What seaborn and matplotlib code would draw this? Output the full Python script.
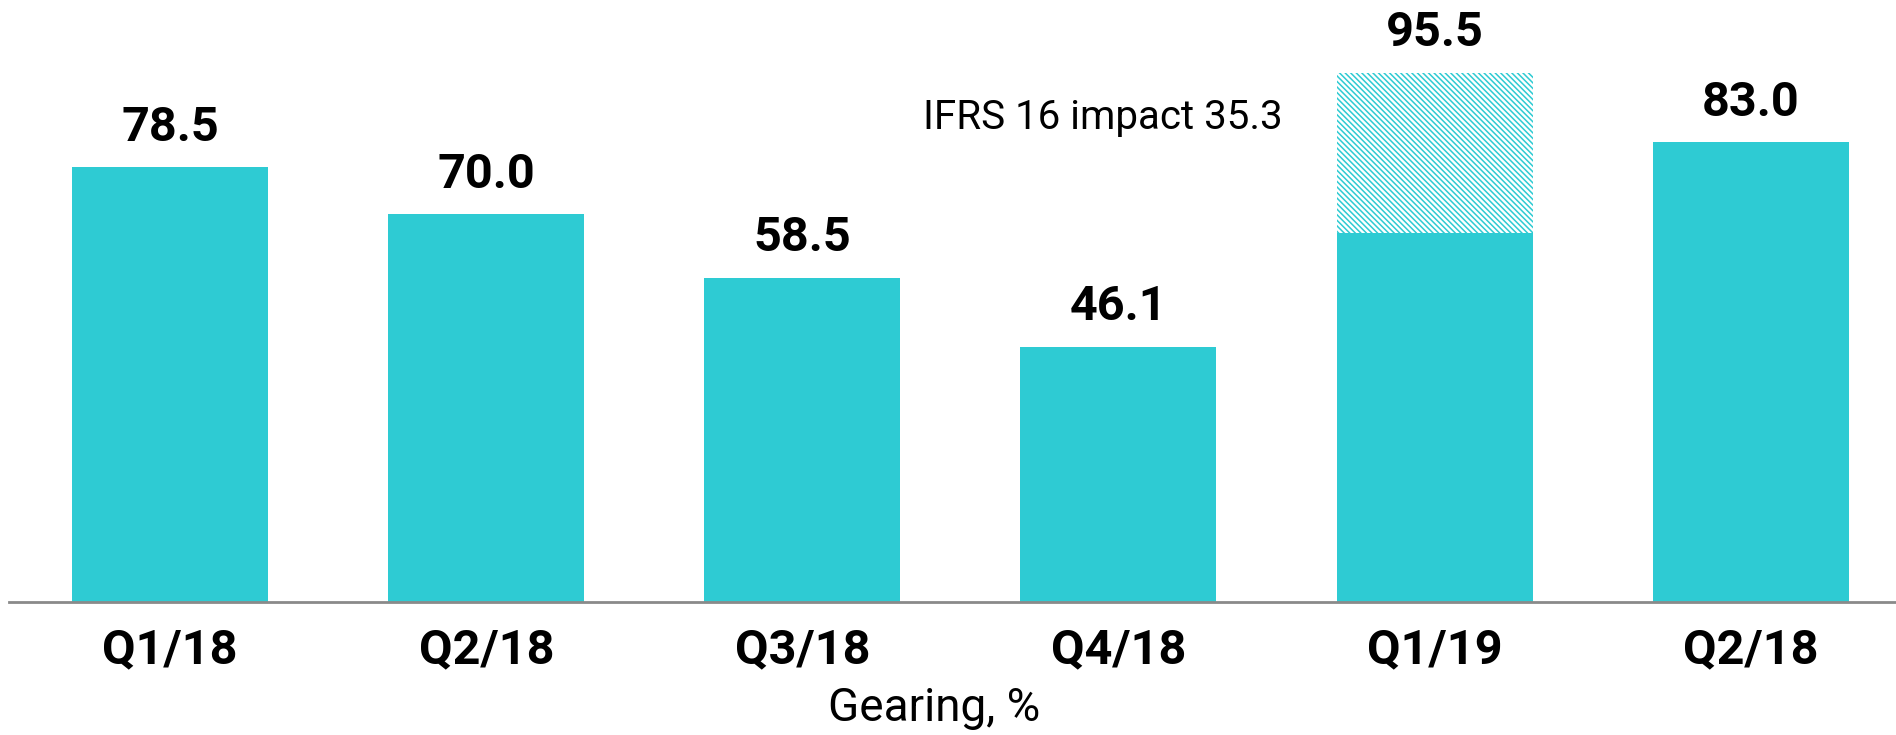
import matplotlib
matplotlib.use("Agg")
import matplotlib.pyplot as plt
import seaborn as sns
import pandas as pd

categories = ["Q1/18", "Q2/18", "Q3/18", "Q4/18", "Q1/19", "Q2/18 "]
tick_labels = ["Q1/18", "Q2/18", "Q3/18", "Q4/18", "Q1/19", "Q2/18"]
gearing_total = [78.5, 70.0, 58.5, 46.1, 95.5, 83.0]
gearing_excl_ifrs = [78.5, 70.0, 58.5, 46.1, 66.6, 83.0]
annotation_text = "IFRS 16 impact 35.3"
axis_label = "Gearing, %"

TEAL = "#2ECBD3"

sns.set_theme(style="white")
plt.rcParams["font.family"] = ["Roboto", "DejaVu Sans"]
plt.rcParams["hatch.linewidth"] = 1.1

df = pd.DataFrame({"quarter": categories, "total": gearing_total, "base": gearing_excl_ifrs})

fig = plt.figure(figsize=(18.96, 7.35), dpi=100)
ax = fig.add_axes([9 / 1896, 133 / 735, 1 - 9 / 1896, 602 / 735])

sns.barplot(data=df, x="quarter", y="total", order=categories, color="white",
            width=0.62, ax=ax, saturation=1)
total_container = ax.containers[0]
for p in total_container:
    p.set_facecolor("white")
    p.set_edgecolor(TEAL)
    p.set_hatch("\\" * 6)
    p.set_linewidth(0)

sns.barplot(data=df, x="quarter", y="base", order=categories, color=TEAL,
            width=0.62, ax=ax, saturation=1, linewidth=0)

ax.bar_label(total_container, labels=[f"{v:.1f}" for v in gearing_total], padding=12,
             fontsize=35, fontweight="bold", color="black")

ax.text(3.52, 87.4, annotation_text, ha="right", va="center", fontsize=29, color="black")

ax.set_xlim(-0.51, 5.46)
ax.set_ylim(0, 108.7)
ax.set_yticks([])
ax.set_ylabel("")
ax.set_xticks(range(len(categories)))
ax.set_xticklabels(tick_labels, fontsize=35, fontweight="bold", color="black")
ax.tick_params(axis="x", length=0, pad=18)
ax.set_xlabel(axis_label, fontsize=33, color="black")
ax.xaxis.set_label_coords(0.49, -0.14)

for s in ["top", "right", "left"]:
    ax.spines[s].set_visible(False)
ax.spines["bottom"].set_color("#8a8a8a")
ax.spines["bottom"].set_linewidth(2)

fig.savefig("out.png", dpi=100)
